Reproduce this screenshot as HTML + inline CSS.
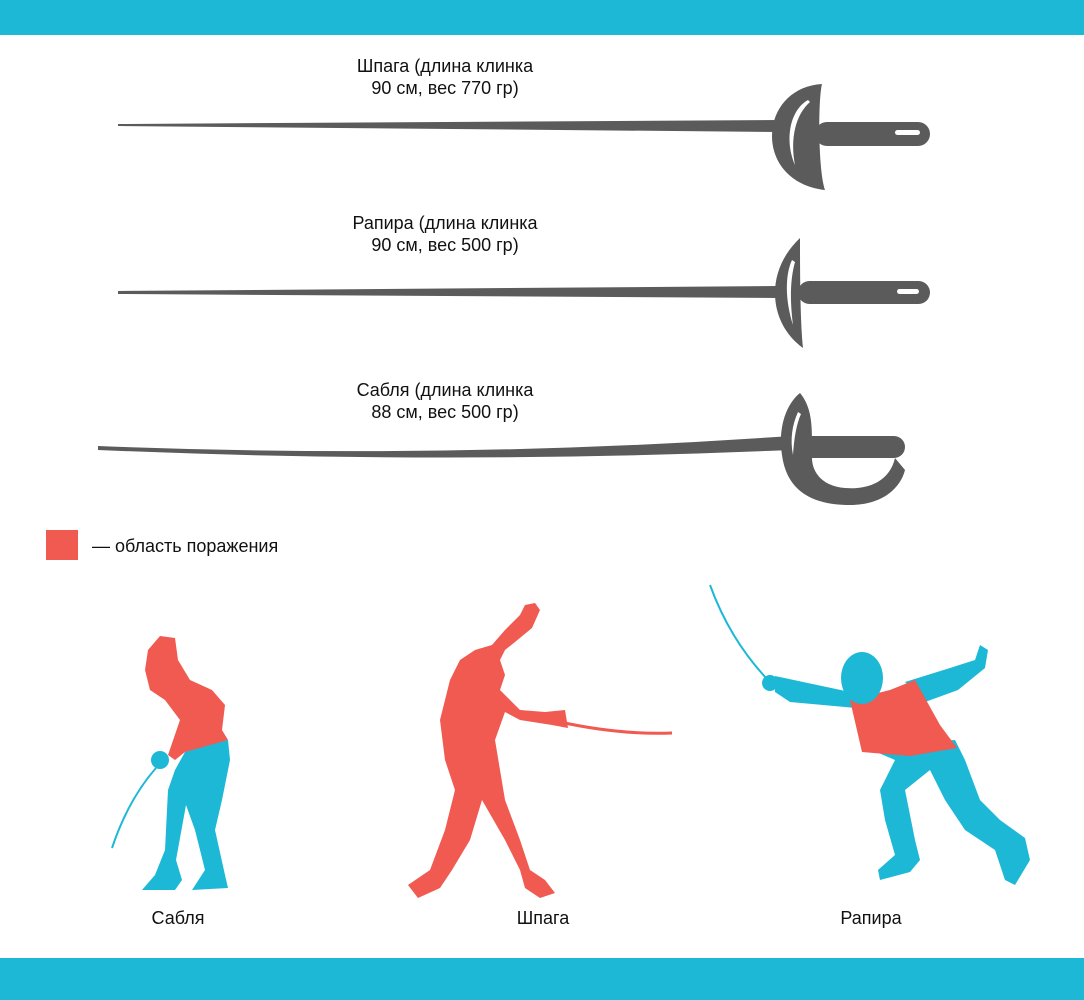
<!DOCTYPE html>
<html><head><meta charset="utf-8"><style>
html,body{margin:0;padding:0;background:#fff}
svg{display:block}
text{font-family:"Liberation Sans",sans-serif;fill:#111;font-size:18px}
</style></head><body>
<svg width="1084" height="1000" viewBox="0 0 1084 1000">
<rect x="0" y="0" width="1084" height="35" fill="#1cb8d6"/>
<rect x="0" y="958" width="1084" height="42" fill="#1cb8d6"/>

<g fill="#5b5b5b">
<text x="445" y="72" text-anchor="middle">Шпага (длина клинка</text>
<text x="445" y="94" text-anchor="middle">90 см, вес 770 гр)</text>
<polygon points="118,124 780,120 780,132 118,126"/>
<path d="M822,84 C790,86 772,110 772,136 C772,162 790,186 825,190 C818,170 818,100 822,84 Z"/>
<path d="M808,100 C790,110 784,140 795,165 C790,140 795,115 810,102 Z" fill="#fff"/>
<rect x="815" y="122" width="115" height="24" rx="12"/>
<rect x="895" y="130" width="25" height="5" rx="2.5" fill="#fff"/>
</g>

<g fill="#5b5b5b">
<text x="445" y="229" text-anchor="middle">Рапира (длина клинка</text>
<text x="445" y="251" text-anchor="middle">90 см, вес 500 гр)</text>
<polygon points="118,291 780,286 780,298 118,294"/>
<path d="M800,238 C782,255 775,275 775,293 C775,315 785,335 803,348 C800,320 800,265 800,238 Z"/>
<path d="M792,260 C785,275 785,300 793,325 C790,300 790,280 795,262 Z" fill="#fff"/>
<rect x="798" y="281" width="132" height="23" rx="11.5"/>
<rect x="897" y="289" width="22" height="5" rx="2.5" fill="#fff"/>
</g>

<g fill="#5b5b5b">
<text x="445" y="396" text-anchor="middle">Сабля (длина клинка</text>
<text x="445" y="418" text-anchor="middle">88 см, вес 500 гр)</text>
<path d="M98,446 Q450,460 790,436 L790,450 Q450,465 98,450 Z"/>
<path d="M800,393 C785,405 778,430 782,455 C786,485 805,505 850,505 C880,505 900,490 905,470 L895,458 C890,480 870,490 845,488 C820,486 812,470 812,458 L812,440 C812,420 810,405 800,393 Z"/>
<path d="M798,412 C792,425 790,440 793,455 C794,440 796,425 801,414 Z" fill="#fff"/>
<rect x="800" y="436" width="105" height="22" rx="11"/>
</g>

<g>
<rect x="46" y="530" width="32" height="30" fill="#f05a50"/>
<text x="92" y="552">— область поражения</text>
</g>

<g>
<path d="M156,768 Q128,800 112,848" stroke="#1cb8d6" stroke-width="2" fill="none"/>
<polygon fill="#f05a50" points="148,650 160,636 175,638 178,660 190,680 212,690 225,705 222,730 228,740 205,748 185,752 175,760 168,755 180,720 165,700 150,690 145,670"/>
<polygon fill="#1cb8d6" points="185,752 228,740 230,760 222,800 215,830 225,875 228,888 192,890 205,870 195,830 186,805 176,860 182,880 175,890 142,890 155,875 165,850 168,790 175,770"/>
<circle cx="160" cy="760" r="9" fill="#1cb8d6"/>
<text x="178" y="924" text-anchor="middle">Сабля</text>
</g>

<g>
<path d="M560,722 Q620,735 672,733" stroke="#f05a50" stroke-width="3" fill="none"/>
<polygon fill="#f05a50" points="535,603 540,610 532,628 515,642 505,650 500,660 505,675 500,690 520,710 545,712 565,710 568,728 552,725 520,720 505,712 495,740 500,770 505,800 520,840 530,870 545,880 555,893 540,898 525,888 520,870 505,840 482,800 470,840 452,870 440,888 418,898 408,885 430,870 445,830 455,790 445,760 440,720 450,680 460,660 475,650 492,645 505,630 520,615 525,605"/>
<text x="543" y="924" text-anchor="middle">Шпага</text>
</g>

<g>
<path d="M768,680 Q730,640 710,585" stroke="#1cb8d6" stroke-width="2" fill="none"/>
<polygon fill="#1cb8d6" points="775,676 850,692 856,708 790,702 775,692"/>
<circle cx="770" cy="683" r="8" fill="#1cb8d6"/>
<polygon fill="#1cb8d6" points="905,682 950,668 975,660 980,645 988,650 985,668 958,690 925,702"/>
<polygon fill="#1cb8d6" points="860,745 955,740 965,760 980,800 1000,820 1025,838 1030,860 1015,885 1005,880 995,850 965,830 945,800 930,770 905,790 915,840 920,860 910,872 880,880 878,870 895,855 885,820 880,790 895,760"/>
<polygon fill="#f05a50" points="850,700 890,690 915,680 940,725 957,748 910,756 862,752"/>
<ellipse cx="862" cy="678" rx="21" ry="26" fill="#1cb8d6"/>
<text x="871" y="924" text-anchor="middle">Рапира</text>
</g>
</svg>
</body></html>
